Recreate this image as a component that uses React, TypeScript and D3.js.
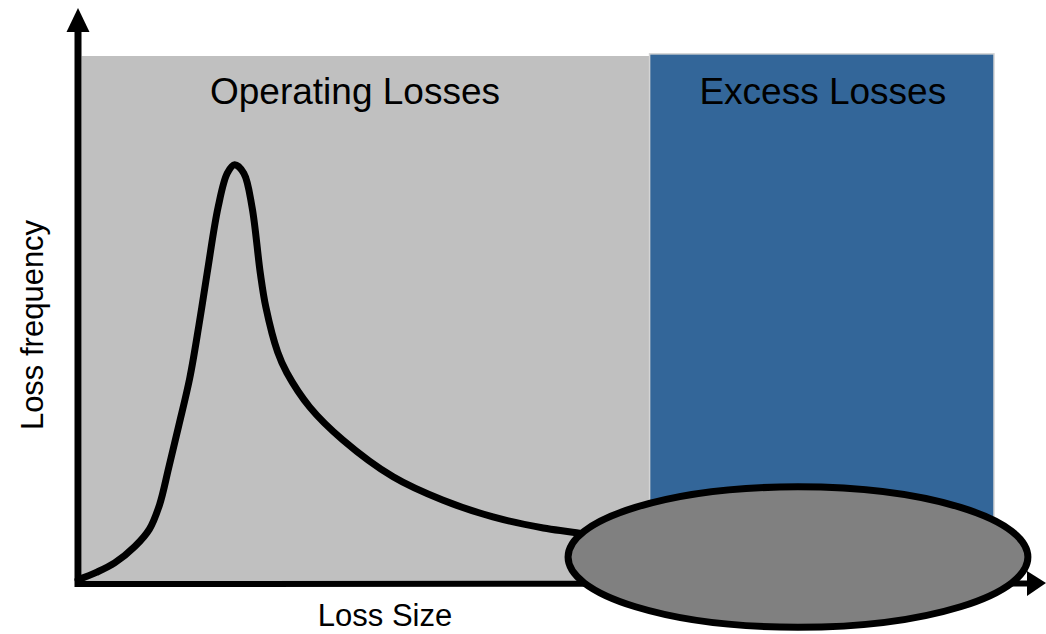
import React from "react";
import * as d3 from "d3";

// ---- data (arbitrary units) ----
const curveX = [0, 2.0, 4.0, 6.2, 7.8, 8.9, 9.9, 11.0, 12.2, 13.2, 14.1, 15.3, 16.3, 17.1, 18.1, 19.0, 19.9, 20.5, 21.8, 22.8, 25.3, 28.9, 34.4, 39.8, 45.3, 50.8, 54.0, 59.2];
const curveY = [0.8, 2.2, 4.0, 7.1, 10.4, 15.0, 22.0, 30.0, 39.0, 49.0, 58.9, 71.4, 77.8, 79.4, 77.8, 71.4, 58.9, 52.5, 43.9, 40.0, 33.5, 27.3, 20.3, 15.9, 12.7, 10.6, 9.8, 8.3];
const regionNames = ["Operating Losses", "Excess Losses"];
const regionStart = [0.4, 62.4];
const regionEnd = [62.4, 100];
const regionTop = [100, 100.4];
const xAxisLabel = "Loss Size";
const yAxisLabel = "Loss frequency";
// highlighted tail (ellipse) in data units
const tailCenter = [78.6, 5.1];
const tailRadius = [25.1, 13.3];

const W = 1046;
const H = 634;

export default function App() {
  const x = d3.scaleLinear().domain([0, 100]).range([78, 994]);
  const y = d3.scaleLinear().domain([0, 100]).range([584, 56]);
  const pts: [number, number][] = curveX.map((v, i) => [v, curveY[i]]);
  const line = d3
    .line<[number, number]>()
    .x((d) => x(d[0]))
    .y((d) => y(d[1]))
    .curve(d3.curveCatmullRom.alpha(0.5));
  const font = "'Liberation Sans', Arial, sans-serif";
  const x0 = x(0);
  const y0 = y(0);
  const fills = ["#c0c0c0", "#336699"];
  return (
    <svg
      width={W}
      height={H}
      style={{ position: "absolute", left: 0, top: 0, background: "#fff" }}
    >
      {regionNames.map((n, i) => (
        <rect
          key={n}
          x={x(regionStart[i])}
          y={y(regionTop[i])}
          width={x(regionEnd[i]) - x(regionStart[i])}
          height={y0 - y(regionTop[i])}
          fill={fills[i]}
          stroke={i === 1 ? "#d4d4d4" : "none"}
          strokeWidth={1.5}
        />
      ))}
      {regionNames.map((n, i) => (
        <text
          key={n + "t"}
          x={i === 0 ? 355 : (x(regionStart[i]) + x(regionEnd[i])) / 2 + 1}
          y={104}
          textAnchor="middle"
          fontFamily={font}
          fontSize={37}
          fill="#000"
        >
          {n}
        </text>
      ))}
      {/* axes */}
      <line x1={x0} y1={y0 + 3} x2={x0} y2={28} stroke="#000" strokeWidth={7} />
      <path d={`M${x0},8 L${x0 - 11.5},32 L${x0 + 11.5},32 Z`} fill="#000" />
      <line x1={x0 + 3} y1={y0} x2={1030} y2={y0 - 0.5} stroke="#000" strokeWidth={6} />
      {/* curve */}
      <path d={line(pts) || ""} fill="none" stroke="#000" strokeWidth={7} strokeLinecap="round" strokeLinejoin="round" />
      {/* tail ellipse */}
      <ellipse
        cx={x(tailCenter[0])}
        cy={y(tailCenter[1])}
        rx={x(tailRadius[0]) - x(0)}
        ry={y(0) - y(tailRadius[1])}
        fill="#808080"
        stroke="#000"
        strokeWidth={7}
      />
      <path d={`M1046,583 L1027,571 L1027,596 Z`} fill="#000" />
      <text x={385} y={626} textAnchor="middle" fontFamily={font} fontSize={31} fill="#000">
        {xAxisLabel}
      </text>
      <text
        transform={`translate(43,325) rotate(-90)`}
        textAnchor="middle"
        fontFamily={font}
        fontSize={31}
        fill="#000"
      >
        {yAxisLabel}
      </text>
    </svg>
  );
}
